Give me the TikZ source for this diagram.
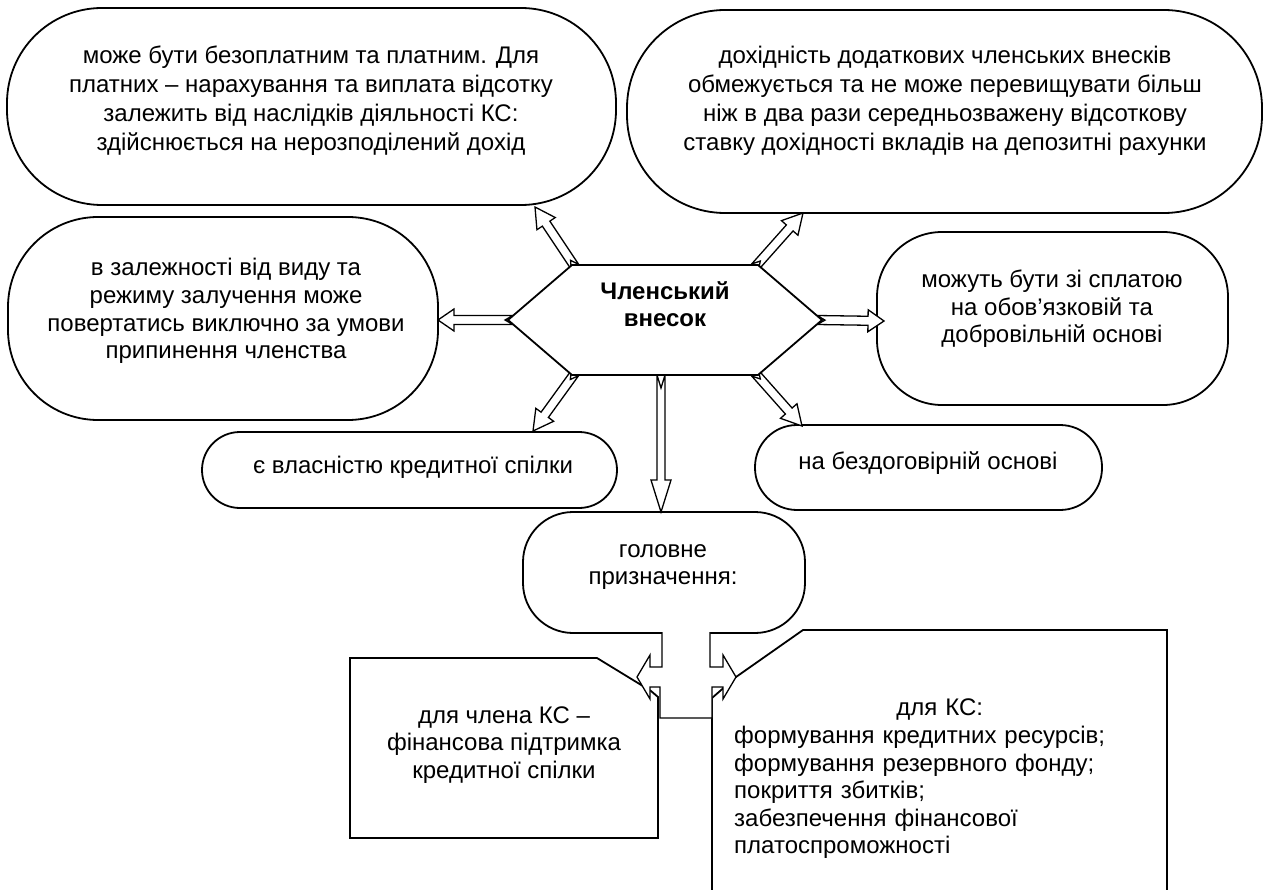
\documentclass[tikz,border=0pt]{standalone}
\usepackage{fontspec}
\setmainfont{Liberation Sans}
\usetikzlibrary{calc}
\tikzset{
  box/.style={draw, line width=1.8pt, fill=white, inner sep=0pt},
  txt/.style={align=center, font=\fontsize{24}{27.6}\selectfont, inner sep=0pt},
  txtwide/.style={align=center, font=\fontsize{24}{29}\selectfont, inner sep=0pt},
  arrowline/.style={draw, line width=1.3pt, fill=white, line join=miter},
}
% notched block arrow: #1 tail, #2 tip, #3 head length, #4 half shaft, #5 half head, #6 notch depth
\newcommand\blockarrow[6]{%
  \coordinate (ba-c) at ($(#2)!#3!(#1)$);
  \coordinate (ba-n) at ($(#1)!#6!(#2)$);
  \draw[arrowline] ($(#1)!#4!90:(#2)$) -- ($(ba-c)!#4!90:(#2)$) -- ($(ba-c)!#5!90:(#2)$)
    -- (#2) -- ($(ba-c)!#5!-90:(#2)$) -- ($(ba-c)!#4!-90:(#2)$) -- ($(#1)!#4!-90:(#2)$)
    -- (ba-n) -- cycle;
}
\begin{document}
\begin{tikzpicture}[x=1pt,y=-1pt]
\useasboundingbox (0,0) rectangle (1268,890);
\fill[white] (0,0) rectangle (1268,890);

% boxes
\node[box, rounded corners=95pt, minimum width=609pt, minimum height=197pt] (tl) at (311.5,106.5) {};
\node[txtwide] (tltext) at (311,101) {може бути безоплатним та платним. Для\\платних -- нарахування та виплата відсотку\\залежить від наслідків діяльності КС:\\здійснюється на нерозподілений дохід};

\node[box, rounded corners=98pt, minimum width=635pt, minimum height=203pt] (tr) at (944.5,111.5) {};
\node[txtwide] (trtext) at (945,101) {дохідність додаткових членських внесків\\обмежується та не може перевищувати більш\\ніж в два рази середньозважену відсоткову\\ставку дохідності вкладів на депозитні рахунки};

\node[box, rounded corners=90pt, minimum width=430pt, minimum height=203pt] (ml) at (223,318.5) {};
\node[txt] (mltext) at (226,311) {в залежності від виду та\\режиму залучення може\\повертатись виключно за умови\\припинення членства};

\node[box, rounded corners=65pt, minimum width=351pt, minimum height=173pt] (mr) at (1052.5,318.5) {};
\node[txt] (mrtext) at (1052,309) {можуть бути зі сплатою\\на обов’язковій та\\добровільній основі};

\node[box, rounded corners=38pt, minimum width=415pt, minimum height=76pt] (bl) at (409.5,470) {};
\node[txt] (bltext) at (413,467) {є власністю кредитної спілки};

\node[box, rounded corners=42pt, minimum width=347pt, minimum height=85pt] (br) at (928.5,467.5) {};
\node[txt] (brtext) at (928,463) {на бездоговірній основі};

\node[box, rounded corners=50pt, minimum width=282pt, minimum height=121pt] (gp) at (664,572.5) {};
\node[txt] (gptext) at (663,567) {головне\\призначення:};

% lower boxes
\coordinate (lb1) at (350,658);
\coordinate (lb2) at (597,658);
\coordinate (lb3) at (651,691);
\coordinate (lb4) at (658,697);
\coordinate (lb5) at (658,838);
\coordinate (lb6) at (350,838);
\draw[box] (lb1) -- (lb2) -- (lb3) -- (lb4) -- (lb5) -- (lb6) -- cycle;
\node[txt] (lbtext) at (504,745) {для члена КС --\\фінансова підтримка\\кредитної спілки};

\coordinate (rb1) at (712,900);
\coordinate (rb2) at (712,698);
\coordinate (rb3) at (736,677);
\coordinate (rb4) at (803,630);
\coordinate (rb5) at (1167,630);
\coordinate (rb6) at (1167,900);
\draw[box] (rb1) -- (rb2) -- (rb3) -- (rb4) -- (rb5) -- (rb6);
\node[txt, align=left, text width=411pt, anchor=north west] (rbtext) at (734,699)
  {\hfill для КС:\hfill\mbox{}\\формування кредитних ресурсів;\\формування резервного фонду;\\покриття збитків;\\забезпечення фінансової\\платоспроможності};

% split arrow below "головне призначення"
\draw[arrowline] (662,632) -- (662,667) -- (650,667) -- (650,655) -- (637,677) -- (650,699)
  -- (650,687) -- (660,687) -- (660,718) -- (712,718) -- (712,687) -- (723,687) -- (723,699)
  -- (736,677) -- (723,655) -- (723,667) -- (710,667) -- (710,632);

% arrows from centre
\coordinate (aTLs) at (575,267);  \coordinate (aTLe) at (535,207);
\coordinate (aTRs) at (755,267);  \coordinate (aTRe) at (803,213);
\coordinate (aLs)  at (513,320);  \coordinate (aLe)  at (438,320);
\coordinate (aRs)  at (817,320);  \coordinate (aRe)  at (884,321);
\coordinate (aBLs) at (575,373);  \coordinate (aBLe) at (533,431);
\coordinate (aBRs) at (755,373);  \coordinate (aBRe) at (802,426);
\coordinate (aDs)  at (661,375);  \coordinate (aDe)  at (661,512);
\blockarrow{aTLs}{aTLe}{20pt}{4.5pt}{11pt}{8pt}
\blockarrow{aTRs}{aTRe}{20pt}{4.5pt}{11pt}{8pt}
\blockarrow{aLs}{aLe}{16pt}{4.5pt}{11pt}{8pt}
\blockarrow{aRs}{aRe}{16pt}{4.5pt}{11pt}{8pt}
\blockarrow{aBLs}{aBLe}{20pt}{4.5pt}{11pt}{8pt}
\blockarrow{aBRs}{aBRe}{20pt}{4.5pt}{11pt}{8pt}
\blockarrow{aDs}{aDe}{32pt}{4pt}{10pt}{13pt}

% hexagon
\coordinate (hl) at (508,320);
\coordinate (htl) at (572,265);
\coordinate (htr) at (758,265);
\coordinate (hr) at (822,320);
\coordinate (hbr) at (758,375);
\coordinate (hbl) at (572,375);
\draw[box, line join=miter] (hl) -- (htl) -- (htr) -- (hr) -- (hbr) -- (hbl) -- cycle;
\node[txt, font=\fontsize{24}{27.6}\selectfont\bfseries] (hc) at (665,304) {Членський\\внесок};
\end{tikzpicture}
\end{document}
